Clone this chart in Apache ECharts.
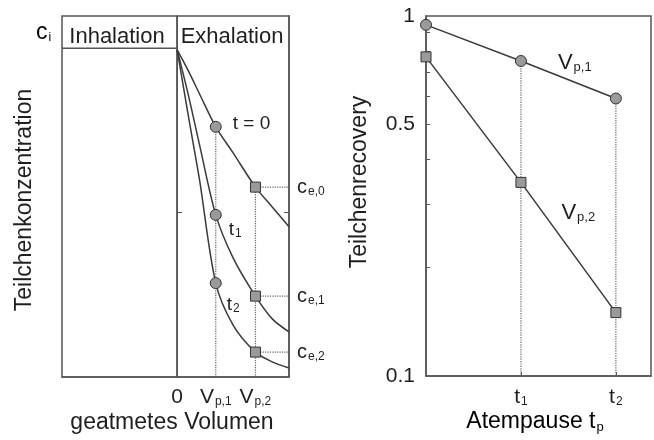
<!DOCTYPE html>
<html><head><meta charset="utf-8">
<script src="https://cdn.jsdelivr.net/npm/echarts@6/dist/echarts.min.js"></script>
<style>html,body{margin:0;padding:0;background:#fff}#c{width:654px;height:440px}</style>
</head><body><div id="c"></div>
<script>
// ---------- data (left panel): exhaled volume vs particle concentration ----------
const volX   = [0, 0.1, 0.2, 0.345, 0.5, 0.70, 0.85, 1.0];
const iVp1 = 3, iVp2 = 5;                       // V_p,1 and V_p,2 positions in volX
const concT0 = [0.906, 0.848, 0.784, 0.693, 0.621, 0.526, 0.471, 0.416];
const concT1 = [0.906, 0.781, 0.643, 0.449, 0.330, 0.224, 0.161, 0.125];
const concT2 = [0.906, 0.723, 0.546, 0.260, 0.144, 0.069, 0.042, 0.025];
const curveLabels = ['t = 0', '{m|t}{s|1}', '{m|t}{s|2}'];
const ceLabels = ['{m|c}{s|e,0}', '{m|c}{s|e,1}', '{m|c}{s|e,2}'];
const leftTickVals = [0, volX[iVp1], volX[iVp2]];
const leftTickLabels = ['{m|0}', '{m|V}{s|p,1}', '{m|V}{s|p,2}'];
const headerLevel = 0.911;
const leftYTick = [0.457];

// ---------- data (right panel): breath-hold time vs particle recovery ----------
const pauseX = [0, 1, 2];
const recVp1 = [0.945, 0.75, 0.59];
const recVp2 = [0.77, 0.345, 0.15];
const rightXTickVals = [1, 2];
const rightXTickLabels = ['{m|t}{s|1}', '{m|t}{s|2}'];
const rightYLabelVals = [0.1, 0.5, 1];
const rightYTickVals = [0.2, 0.3, 0.4, 0.5, 0.6, 0.7, 0.8, 0.9];

const F = '"Liberation Sans", Arial, Helvetica, sans-serif';
const TC = '#1e1e1e';
const LC = '#3a3a3a';
const BC = '#555';
function richSet(ms, ss, drop) {
  return {
    m: {fontSize: ms, fontFamily: F, color: TC, lineHeight: ms + 4},
    s: {fontSize: ss, fontFamily: F, color: TC, lineHeight: ss, padding: [drop, 0, 0, 1]}
  };
}
const R20 = richSet(21, 12, 9);
const R19 = richSet(20, 12, 9);

function pick(vals, labels) {
  return v => { let b = 0; vals.forEach((t, i) => { if (Math.abs(t - v) < Math.abs(vals[b] - v)) b = i; }); return labels[b]; };
}

const markerStyle = {color: '#9a9a9a', borderColor: '#333', borderWidth: 1};
function curveSeries(vals, k, lblOffset) {
  return {
    type: 'line', xAxisIndex: 0, yAxisIndex: 0, smooth: 0.3,
    clip: false, z: 5, silent: true, animation: false,
    lineStyle: {color: LC, width: 1.5}, itemStyle: markerStyle,
    data: volX.map((x, i) => {
      const it = {value: [x, vals[i]]};
      if (i === iVp1) {
        it.symbol = 'circle'; it.symbolSize = 11;
        it.label = {show: true, position: 'right', offset: lblOffset, formatter: curveLabels[k],
          fontSize: 19, fontFamily: F, color: TC, rich: richSet(19, 12, 8)};
      } else if (i === iVp2) {
        it.symbol = 'rect'; it.symbolSize = 10;
      } else it.symbol = 'none';
      return it;
    })
  };
}
function seg(xa, ya, pts, dotted, z, extra) {
  return Object.assign({
    type: 'line', xAxisIndex: xa, yAxisIndex: ya, data: pts, symbol: 'none', silent: true,
    animation: false, clip: false, z: z,
    lineStyle: {color: dotted ? '#666' : BC, width: dotted ? 1.2 : 1.5, type: dotted ? 'dotted' : 'solid'}
  }, extra || {});
}

const curves = [concT0, concT1, concT2];
const series = [];
// structure of left panel
series.push(seg(0, 0, [[0, 0], [0, 1]], false, 3));
series.push(seg(0, 0, [[-1.03, headerLevel], [0, headerLevel]], false, 3));
// dotted guides left
series.push(seg(0, 0, [[volX[iVp1], concT0[iVp1]], [volX[iVp1], 0]], true, 2));
series.push(seg(0, 0, [[volX[iVp2], concT0[iVp2]], [volX[iVp2], 0]], true, 2));
curves.forEach((c, k) => {
  series.push(seg(0, 0, [[volX[iVp2], c[iVp2]], [1, c[iVp2]]], true, 2,
    {endLabel: {show: true, distance: 8, formatter: ceLabels[k], rich: R19}}));
});
series.push(curveSeries(concT0, 0, [6, -3]));
series.push(curveSeries(concT1, 1, [2, 15]));
series.push(curveSeries(concT2, 2, [0, 22]));

// right panel
series.push(seg(1, 2, [[pauseX[1], recVp1[1]], [pauseX[1], 0.1]], true, 2));
series.push(seg(1, 2, [[pauseX[2], recVp1[2]], [pauseX[2], 0.1]], true, 2));
series.push({
  type: 'line', xAxisIndex: 1, yAxisIndex: 2, symbol: 'circle', symbolSize: 11, clip: false, z: 5,
  silent: true, animation: false, lineStyle: {color: LC, width: 1.5}, itemStyle: markerStyle,
  data: pauseX.map((x, i) => i === 1 ? {value: [x, recVp1[i]], label: {show: true, position: 'right',
    offset: [26, 2], formatter: '{m|V}{s|p,1}', rich: richSet(22, 13, 9)}} : [x, recVp1[i]])
});
series.push({
  type: 'line', xAxisIndex: 1, yAxisIndex: 2, symbol: 'rect', symbolSize: 10, clip: false, z: 5,
  silent: true, animation: false, lineStyle: {color: LC, width: 1.5}, itemStyle: markerStyle,
  data: pauseX.map((x, i) => i === 1 ? {value: [x, recVp2[i]], label: {show: true, position: 'right',
    offset: [30, 31], formatter: '{m|V}{s|p,2}', rich: richSet(22, 13, 9)}} : [x, recVp2[i]])
});

const axLine = {show: true, lineStyle: {color: BC, width: 1.5}};
const option = {
  backgroundColor: '#fff',
  animation: false,
  grid: [
    {left: 62, top: 16, width: 227, height: 361, show: true, borderColor: BC, borderWidth: 1.5},
    {left: 426, top: 16, width: 225, height: 360, show: true, borderColor: BC, borderWidth: 1.5}
  ],
  xAxis: [
    {type: 'value', gridIndex: 0, min: -1.03, max: 1, axisLine: axLine, splitLine: {show: false},
     axisTick: {show: false},
     axisLabel: {customValues: leftTickVals, margin: 8, formatter: pick(leftTickVals, leftTickLabels), rich: R20}},
    {type: 'value', gridIndex: 1, min: 0, max: 2.37, axisLine: axLine, splitLine: {show: false},
     axisTick: {customValues: rightXTickVals, inside: true, length: 4, lineStyle: {color: BC}},
     axisLabel: {customValues: rightXTickVals, margin: 9, formatter: pick(rightXTickVals, rightXTickLabels), rich: R20}}
  ],
  yAxis: [
    {type: 'value', gridIndex: 0, min: 0, max: 1, axisLine: axLine, splitLine: {show: false},
     axisTick: {customValues: leftYTick, inside: true, length: 5, lineStyle: {color: BC}}, axisLabel: {show: false}},
    {type: 'value', gridIndex: 0, min: 0, max: 1, position: 'right', axisLine: axLine, splitLine: {show: false},
     axisTick: {customValues: leftYTick, inside: true, length: 5, lineStyle: {color: BC}}, axisLabel: {show: false}},
    {type: 'log', logBase: 10, gridIndex: 1, min: 0.1, max: 1, axisLine: axLine, splitLine: {show: false},
     axisTick: {customValues: rightYTickVals, inside: true, length: 4, lineStyle: {color: BC}},
     axisLabel: {customValues: rightYLabelVals, margin: 11, fontSize: 21, fontFamily: F, color: TC,
       formatter: v => String(+v.toPrecision(3))}}
  ],
  graphic: [
    {type: 'text', x: 117, y: 37, style: {text: 'Inhalation', font: '22px ' + F, fill: TC, align: 'center', verticalAlign: 'middle'}},
    {type: 'text', x: 232, y: 37, style: {text: 'Exhalation', font: '22px ' + F, fill: TC, align: 'center', verticalAlign: 'middle'}},
    {type: 'text', x: 36, y: 33, style: {text: '{m|c}{s|i}', rich: richSet(23, 12, 9), align: 'left', verticalAlign: 'middle'}},
    {type: 'text', x: 25, y: 200, rotation: Math.PI / 2, style: {text: 'Teilchenkonzentration', font: '23px ' + F, fill: TC, align: 'center', verticalAlign: 'middle'}},
    {type: 'text', x: 360, y: 182, rotation: Math.PI / 2, style: {text: 'Teilchenrecovery', font: '23px ' + F, fill: TC, align: 'center', verticalAlign: 'middle'}},
    {type: 'text', x: 172, y: 423, style: {text: 'geatmetes Volumen', font: '23px ' + F, fill: TC, align: 'center', verticalAlign: 'middle'}},
    {type: 'text', x: 535, y: 422, style: {text: '{m|Atempause t}{s|p}', rich: richSet(23, 13, 10), align: 'center', verticalAlign: 'middle'}}
  ],
  series: series
};
const chart = echarts.init(document.getElementById('c'), null, {renderer: 'canvas'});
chart.setOption(option);
</script>
</body></html>
